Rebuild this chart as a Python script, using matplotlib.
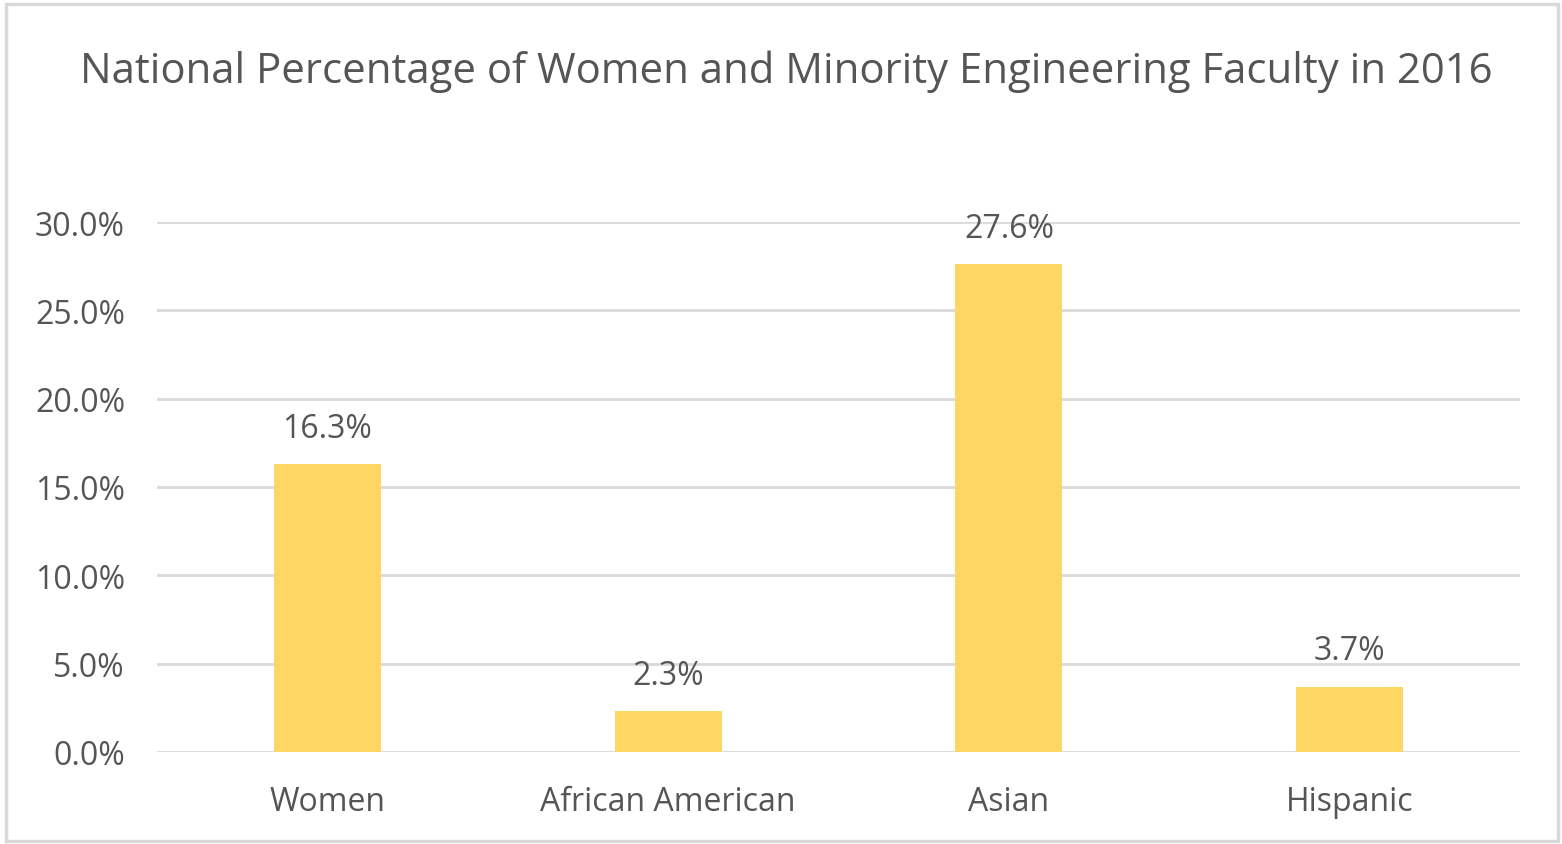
import matplotlib
matplotlib.use("Agg")
import matplotlib.pyplot as plt
from matplotlib.patches import Rectangle

categories = ["Women", "African American", "Asian", "Hispanic"]
values = [16.3, 2.3, 27.6, 3.7]
yticks = [0, 5, 10, 15, 20, 25, 30]
title = "National Percentage of Women and Minority Engineering Faculty in 2016"

FONT = ["Open Sans", "DejaVu Sans"]
TXT = "#555555"
plt.rcParams["font.family"] = FONT

fig = plt.figure(figsize=(15.62, 8.45), dpi=100)
fig.patches.append(Rectangle((6/1562, 3/845), 1552/1562, 837/845, transform=fig.transFigure,
                             fill=False, edgecolor="#d9d9d9", linewidth=2.5))

ax = fig.add_axes([157/1562, 1-753/845, 1363/1562, 530/845])
x = list(range(len(categories)))
ax.bar(x, values, width=0.314, color="#FDD663", zorder=2)
ax.set_xlim(-0.5, len(categories)-0.5)
ax.set_ylim(0, 30)
ax.set_yticks(yticks)
ax.set_yticklabels([f"{v:.1f}%" for v in yticks], fontsize=23, color=TXT)
ax.set_xticks(x)
ax.set_xticklabels(categories, fontsize=23, color=TXT)
ax.tick_params(axis="both", length=0)
ax.tick_params(axis="y", pad=23)
ax.tick_params(axis="x", pad=24)
ax.grid(axis="y", color="#d9d9d9", linewidth=2, zorder=0)
for s in ax.spines.values():
    s.set_visible(False)
for xi, v in zip(x, values):
    ax.annotate(f"{v:.1f}%", (xi, v), xytext=(0, 14), textcoords="offset points",
                ha="center", va="bottom", fontsize=23, color=TXT, annotation_clip=False)

fig.text(786/1562, 1-72/845, title, ha="center", va="center", fontsize=30.2, color=TXT)

fig.savefig("out.png", dpi=100)
